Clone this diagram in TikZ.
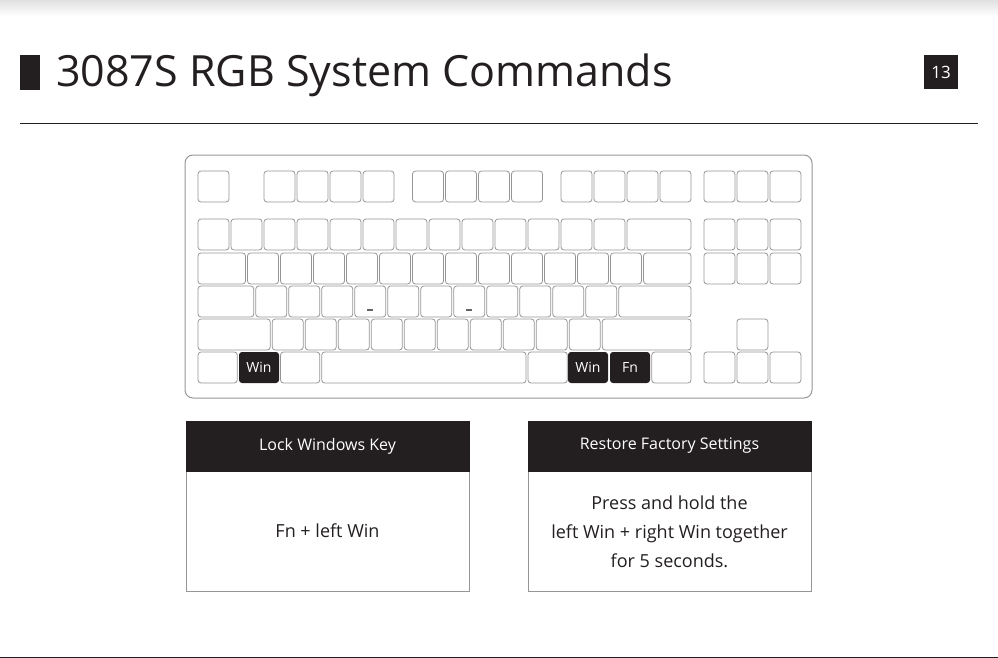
\documentclass[tikz,border=0pt]{standalone}
\usepackage{fontspec}
\setmainfont{Open Sans}
\usepackage{xcolor}
\definecolor{ink}{RGB}{35,31,32}
\definecolor{keyline}{RGB}{150,150,150}
\tikzset{
  key/.style={draw=keyline, line width=0.8pt, rounded corners=3pt, fill=white},
  dkey/.style={fill=ink, rounded corners=3pt},
  keytxt/.style={text=white, font=\fontsize{14}{14}\selectfont},
  cmdhead/.style={fill=ink, draw=ink},
  cmdbody/.style={draw=keyline, line width=0.8pt, fill=white},
}
% key at unit column #1, row top #2, width in units #3
\newcommand\kbkey[3]{\draw[key] ({197+#1*33+1},#2) rectangle ({197+(#1+#3)*33-1},{#2+31});}
\begin{document}
\begin{tikzpicture}[x=1pt,y=-1pt]
  \useasboundingbox (0,0) rectangle (998,658);
  \shade[top color=black!12, bottom color=white] (0,0) rectangle (998,16);
  % title
  \fill[ink] (20,55) rectangle (40,90);
  \node[anchor=west, inner sep=0, font=\fontsize{43}{43}\selectfont, text=ink] (title) at (56,75) {3087S RGB System Commands};
  \fill[ink] (924,55) rectangle (958,89);
  \node[text=white, font=\fontsize{17}{17}\selectfont] (page) at (941,72) {13};
  \draw[ink, line width=0.8pt] (20,123) -- (978,123);
  \draw[ink, line width=0.8pt] (0,657) -- (998,657);
  % keyboard case
  \draw[keyline, line width=1pt, rounded corners=8pt] (185,155) rectangle (812,398);
  % row 0
  \kbkey{0}{171}{1}
  \foreach \c in {2,3,4,5} {\kbkey{\c}{171}{1}}
  \foreach \c in {6.5,7.5,8.5,9.5} {\kbkey{\c}{171}{1}}
  \foreach \c in {11,12,13,14} {\kbkey{\c}{171}{1}}
  \foreach \c in {15.33,16.33,17.33} {\kbkey{\c}{171}{1}}
  % row 1
  \foreach \c in {0,...,12} {\kbkey{\c}{219}{1}}
  \kbkey{13}{219}{2}
  \foreach \c in {15.33,16.33,17.33} {\kbkey{\c}{219}{1}}
  % row 2
  \kbkey{0}{253}{1.5}
  \foreach \c in {1.5,2.5,...,12.5} {\kbkey{\c}{253}{1}}
  \kbkey{13.5}{253}{1.5}
  \foreach \c in {15.33,16.33,17.33} {\kbkey{\c}{253}{1}}
  % row 3
  \kbkey{0}{286}{1.75}
  \foreach \c in {1.75,2.75,...,11.75} {\kbkey{\c}{286}{1}}
  \kbkey{12.75}{286}{2.25}
  \fill[ink!70] (367,309) rectangle (373,311);
  \fill[ink!70] (466,309) rectangle (472,311);
  % row 4
  \kbkey{0}{319}{2.25}
  \foreach \c in {2.25,3.25,...,11.25} {\kbkey{\c}{319}{1}}
  \kbkey{12.25}{319}{2.75}
  \kbkey{16.33}{319}{1}
  % row 5
  \kbkey{0}{352}{1.25}
  \kbkey{2.5}{352}{1.25}
  \kbkey{3.75}{352}{6.25}
  \kbkey{10}{352}{1.25}
  \kbkey{13.75}{352}{1.25}
  \foreach \c in {15.33,16.33,17.33} {\kbkey{\c}{352}{1}}
  \fill[dkey] (239,352) rectangle (279,383);
  \node[keytxt] (lwin) at (259,367) {Win};
  \fill[dkey] (568,352) rectangle (608,383);
  \node[keytxt] (rwin) at (588,367) {Win};
  \fill[dkey] (610,352) rectangle (650,383);
  \node[keytxt] (fn) at (630,367) {Fn};
  % command boxes
  \draw[cmdbody] (186,421) rectangle (469,591);
  \fill[cmdhead] (186,421) rectangle (469,471);
  \node[text=white, font=\fontsize{16}{16}\selectfont] (lockhead) at (327.5,446) {Lock Windows Key};
  \node[text=ink, font=\fontsize{18}{18}\selectfont] (lockbody) at (327.5,531) {Fn + left Win};
  \draw[cmdbody] (528,421) rectangle (811,591);
  \fill[cmdhead] (528,421) rectangle (811,471);
  \node[text=white, font=\fontsize{16}{16}\selectfont] (resethead) at (669.5,446) {Restore Factory Settings};
  \node[text=ink, font=\fontsize{18}{29}\selectfont, align=center] (resetbody) at (669.5,532)
    {Press and hold the\\left Win + right Win together\\for 5 seconds.};
\end{tikzpicture}
\end{document}
